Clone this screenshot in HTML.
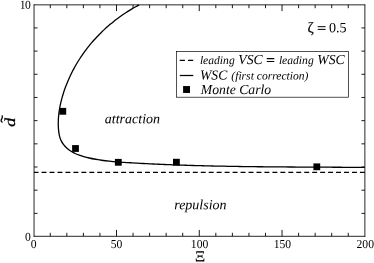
<!DOCTYPE html>
<html><head><meta charset="utf-8"><style>
html,body{margin:0;padding:0;background:#fff;}
body{width:374px;height:263px;overflow:hidden;}
svg{display:block;font-family:"Liberation Serif",serif;will-change:transform;}
</style></head><body>
<svg width="374" height="263" viewBox="0 0 374 263">
<rect width="374" height="263" fill="#fff"/>
<path d="M33.67 4.85 H365.25 M33.67 236.3 H365.25 M34.05 4.5 V236.7 M364.88 4.5 V236.7" fill="none" stroke="#000" stroke-width="0.85"/>
<path d="M50.27 236.20 v-3.40 M50.27 4.80 v3.40 M66.83 236.20 v-3.40 M66.83 4.80 v3.40 M83.38 236.20 v-3.40 M83.38 4.80 v3.40 M99.94 236.20 v-3.40 M99.94 4.80 v3.40 M116.50 236.20 v-6.30 M116.50 4.80 v6.30 M133.05 236.20 v-3.40 M133.05 4.80 v3.40 M149.60 236.20 v-3.40 M149.60 4.80 v3.40 M166.16 236.20 v-3.40 M166.16 4.80 v3.40 M182.72 236.20 v-3.40 M182.72 4.80 v3.40 M199.27 236.20 v-6.30 M199.27 4.80 v6.30 M215.82 236.20 v-3.40 M215.82 4.80 v3.40 M232.38 236.20 v-3.40 M232.38 4.80 v3.40 M248.94 236.20 v-3.40 M248.94 4.80 v3.40 M265.49 236.20 v-3.40 M265.49 4.80 v3.40 M282.04 236.20 v-6.30 M282.04 4.80 v6.30 M298.60 236.20 v-3.40 M298.60 4.80 v3.40 M315.15 236.20 v-3.40 M315.15 4.80 v3.40 M331.71 236.20 v-3.40 M331.71 4.80 v3.40 M348.26 236.20 v-3.40 M348.26 4.80 v3.40 M34.12 213.37 h3.40 M364.85 213.37 h-3.40 M34.12 190.19 h3.40 M364.85 190.19 h-3.40 M34.12 167.01 h3.40 M364.85 167.01 h-3.40 M34.12 143.83 h3.40 M364.85 143.83 h-3.40 M34.12 120.65 h3.40 M364.85 120.65 h-3.40 M34.12 97.47 h3.40 M364.85 97.47 h-3.40 M34.12 74.29 h3.40 M364.85 74.29 h-3.40 M34.12 51.11 h3.40 M364.85 51.11 h-3.40 M34.12 27.93 h3.40 M364.85 27.93 h-3.40" stroke="#000" stroke-width="0.9" fill="none"/>
<path d="M34.0 172.35 H364.85" stroke="#000" stroke-width="1.25" stroke-dasharray="4.93 3.03" stroke-dashoffset="0.4" fill="none"/>
<path d="M139.08 4.91 C138.52 5.22 136.83 6.12 135.71 6.74 C134.60 7.37 133.49 8.00 132.39 8.65 C131.29 9.30 130.20 9.96 129.12 10.63 C128.03 11.31 126.96 11.99 125.89 12.69 C124.82 13.39 123.76 14.10 122.71 14.83 C121.66 15.55 120.61 16.28 119.58 17.03 C118.55 17.78 117.52 18.54 116.50 19.31 C115.49 20.08 114.48 20.87 113.48 21.66 C112.48 22.46 111.49 23.27 110.52 24.08 C109.54 24.90 108.57 25.73 107.61 26.58 C106.65 27.42 105.70 28.27 104.76 29.14 C103.82 30.00 102.89 30.88 101.98 31.76 C101.06 32.65 100.15 33.55 99.26 34.46 C98.36 35.37 97.47 36.29 96.60 37.22 C95.73 38.15 94.87 39.09 94.02 40.04 C93.17 41.00 92.33 41.96 91.50 42.93 C90.67 43.90 89.86 44.89 89.06 45.88 C88.26 46.87 87.47 47.87 86.69 48.89 C85.91 49.90 85.15 50.92 84.40 51.95 C83.65 52.99 82.91 54.03 82.19 55.08 C81.46 56.13 80.75 57.19 80.05 58.26 C79.36 59.33 78.67 60.41 78.00 61.49 C77.33 62.58 76.68 63.68 76.04 64.78 C75.40 65.88 74.77 66.99 74.16 68.11 C73.54 69.23 72.95 70.36 72.36 71.50 C71.78 72.63 71.21 73.78 70.66 74.93 C70.11 76.08 69.57 77.24 69.05 78.40 C68.53 79.57 68.03 80.74 67.54 81.92 C67.05 83.10 66.57 84.28 66.11 85.47 C65.65 86.66 65.21 87.86 64.79 89.06 C64.36 90.27 63.95 91.48 63.56 92.69 C63.17 93.91 62.79 95.13 62.43 96.35 C62.08 97.58 61.74 98.81 61.42 100.04 C61.10 101.28 60.81 102.52 60.53 103.77 C60.25 105.01 60.00 106.26 59.77 107.52 C59.54 108.78 59.33 110.04 59.15 111.30 C58.97 112.56 58.82 113.83 58.69 115.10 C58.56 116.37 58.46 117.64 58.39 118.92 C58.32 120.19 58.28 121.47 58.27 122.74 C58.26 124.02 58.28 125.30 58.33 126.57 C58.39 127.85 58.47 129.12 58.60 130.39 C58.73 131.66 58.88 132.93 59.11 134.18 C59.35 135.44 59.63 136.69 60.03 137.90 C60.42 139.11 60.91 140.30 61.51 141.42 C62.11 142.54 62.83 143.62 63.60 144.62 C64.38 145.63 65.26 146.58 66.17 147.46 C67.09 148.34 68.08 149.17 69.10 149.93 C70.12 150.68 71.20 151.38 72.30 152.01 C73.41 152.65 74.55 153.22 75.71 153.75 C76.87 154.28 78.06 154.75 79.26 155.19 C80.46 155.63 81.68 156.01 82.90 156.38 C84.12 156.74 85.36 157.07 86.60 157.38 C87.83 157.69 89.08 157.97 90.33 158.25 C91.57 158.52 92.82 158.77 94.08 159.01 C95.33 159.25 96.59 159.47 97.85 159.67 C99.11 159.88 100.37 160.07 101.63 160.25 C102.90 160.43 104.16 160.59 105.43 160.75 C106.70 160.90 107.97 161.04 109.24 161.18 C110.51 161.31 111.78 161.43 113.05 161.55 C114.32 161.66 115.59 161.77 116.86 161.87 C118.13 161.97 119.41 162.06 120.68 162.15 C121.95 162.24 123.23 162.33 124.50 162.41 C125.77 162.49 127.05 162.57 128.32 162.65 C129.60 162.72 130.87 162.80 132.15 162.87 C133.42 162.95 134.69 163.02 135.97 163.09 C137.24 163.16 138.52 163.24 139.79 163.30 C141.07 163.37 142.34 163.44 143.61 163.51 C144.89 163.57 146.16 163.64 147.44 163.70 C148.71 163.77 149.99 163.83 151.26 163.89 C152.54 163.95 153.81 164.01 155.09 164.07 C156.36 164.13 157.64 164.19 158.91 164.24 C160.19 164.30 161.46 164.35 162.74 164.41 C164.01 164.46 165.29 164.52 166.56 164.57 C167.84 164.62 169.11 164.67 170.39 164.72 C171.67 164.77 172.94 164.82 174.22 164.86 C175.49 164.91 176.77 164.96 178.04 165.00 C179.32 165.05 180.59 165.09 181.87 165.13 C183.15 165.18 184.42 165.22 185.70 165.26 C186.97 165.30 188.25 165.34 189.52 165.38 C190.80 165.42 192.08 165.46 193.35 165.50 C194.63 165.53 195.90 165.57 197.18 165.60 C198.45 165.64 199.73 165.67 201.01 165.71 C202.28 165.74 203.56 165.77 204.83 165.81 C206.11 165.84 207.39 165.87 208.66 165.90 C209.94 165.93 211.21 165.96 212.49 165.99 C213.77 166.02 215.04 166.04 216.32 166.07 C217.59 166.10 218.87 166.12 220.15 166.15 C221.42 166.18 222.70 166.20 223.97 166.22 C225.25 166.25 226.53 166.27 227.80 166.29 C229.08 166.32 230.36 166.34 231.63 166.36 C232.91 166.38 234.18 166.40 235.46 166.42 C236.74 166.44 238.01 166.46 239.29 166.48 C240.56 166.50 241.84 166.52 243.12 166.54 C244.39 166.55 245.67 166.57 246.95 166.59 C248.22 166.61 249.50 166.62 250.77 166.64 C252.05 166.65 253.33 166.67 254.60 166.68 C255.88 166.70 257.16 166.71 258.43 166.73 C259.71 166.74 260.98 166.75 262.26 166.77 C263.54 166.78 264.81 166.79 266.09 166.80 C267.37 166.81 268.64 166.83 269.92 166.84 C271.20 166.85 272.47 166.86 273.75 166.87 C275.02 166.88 276.30 166.89 277.58 166.90 C278.85 166.91 280.13 166.92 281.41 166.93 C282.68 166.94 283.96 166.95 285.23 166.96 C286.51 166.97 287.79 166.98 289.06 166.98 C290.34 166.99 291.62 167.00 292.89 167.01 C294.17 167.02 295.45 167.02 296.72 167.03 C298.00 167.04 299.27 167.05 300.55 167.05 C301.83 167.06 303.10 167.07 304.38 167.08 C305.66 167.08 306.93 167.09 308.21 167.10 C309.48 167.10 310.76 167.11 312.04 167.12 C313.31 167.12 314.59 167.13 315.87 167.14 C317.14 167.14 318.42 167.15 319.70 167.16 C320.97 167.16 322.25 167.17 323.52 167.18 C324.80 167.18 326.08 167.19 327.35 167.20 C328.63 167.20 329.91 167.21 331.18 167.22 C332.46 167.23 333.73 167.23 335.01 167.24 C336.29 167.25 337.56 167.25 338.84 167.26 C340.12 167.27 341.39 167.28 342.67 167.28 C343.95 167.29 345.22 167.30 346.50 167.31 C347.77 167.32 349.05 167.33 350.33 167.33 C351.60 167.34 352.88 167.35 354.16 167.36 C355.43 167.37 356.71 167.38 357.99 167.39 C359.26 167.40 360.70 167.41 361.81 167.42 C362.93 167.43 364.21 167.44 364.69 167.44" stroke="#000" stroke-width="1.3" fill="none"/>
<g fill="#000"><rect x="59.40" y="107.90" width="6.80" height="6.80"/><rect x="72.10" y="145.10" width="6.80" height="6.80"/><rect x="114.90" y="158.90" width="6.80" height="6.80"/><rect x="173.00" y="158.80" width="6.80" height="6.80"/><rect x="313.40" y="163.40" width="6.80" height="6.80"/></g>
<rect x="176.4" y="51.5" width="172.1" height="45.7" fill="#fff" stroke="#000" stroke-width="0.68"/>
<path d="M179.7 60.45 H193.3" stroke="#000" stroke-width="1.25" stroke-dasharray="5.2 3.1" fill="none"/>
<path d="M179.8 75.5 H193.3" stroke="#000" stroke-width="1.25" fill="none"/>
<rect x="183.1" y="86.05" width="6.9" height="6.9" fill="#000"/>
<g transform="translate(15.2,122.15) rotate(-90) scale(1.19,0.97) skewX(2.5)"><text x="0" y="0" font-size="15.6px" font-style="italic" text-anchor="middle" stroke="#000" stroke-width="0.25">d</text></g>
<path d="M2.6 121.9 C1.3 122.3 0.6 120.6 1.5 119.2 C2.3 118.0 3.2 117.2 1.9 115.3" stroke="#000" stroke-width="1.3" fill="none"/>
<g fill="#000">
<text transform="translate(33.72,248.00) rotate(0.03) scale(0.955,1)" font-size="12.2px" text-anchor="middle">0</text>
<text transform="translate(116.50,248.00) rotate(0.03) scale(0.955,1)" font-size="12.2px" text-anchor="middle">50</text>
<text transform="translate(199.57,248.00) rotate(0.03) scale(0.955,1)" font-size="12.2px" text-anchor="middle">100</text>
<text transform="translate(282.34,248.00) rotate(0.03) scale(0.955,1)" font-size="12.2px" text-anchor="middle">150</text>
<text transform="translate(365.22,248.00) rotate(0.03) scale(0.955,1)" font-size="12.2px" text-anchor="middle">200</text>
<text transform="translate(30.85,8.70) rotate(0.03) scale(0.955,1)" font-size="12.2px" text-anchor="end">0</text>
<text transform="translate(25.55,8.70) rotate(0.03) scale(0.955,1)" font-size="12.2px" text-anchor="end">1</text>
<text transform="translate(30.85,240.70) rotate(0.03) scale(0.955,1)" font-size="12.2px" text-anchor="end">0</text>
<text transform="translate(200.10,261.60) rotate(0.03)" font-size="15.8px" text-anchor="middle" stroke="#000" stroke-width="0.15">&#926;</text>
<text transform="translate(104.80,123.30) rotate(0.03)" font-size="14.0px" text-anchor="start" font-style="italic">attraction</text>
<text transform="translate(174.20,209.30) rotate(0.03)" font-size="14.0px" text-anchor="start" font-style="italic">repulsion</text>
<text transform="translate(307.50,32.40) rotate(0.03)" font-size="15.0px" text-anchor="start" stroke="#000" stroke-width="0.2">&#950;</text>
<text transform="translate(328.95,32.30) rotate(0.03)" font-size="14.1px" text-anchor="start">0.5</text>
<path d="M317.7 26.7 H325.6 M317.7 29.4 H325.6" stroke="#000" stroke-width="1.0" fill="none"/>
<text transform="translate(199.90,63.90) rotate(0.03)" font-size="11.6px" text-anchor="start" font-style="italic">leading</text>
<text transform="translate(238.30,63.90) rotate(0.03)" font-size="13.7px" text-anchor="start" font-style="italic">VSC</text>
<path d="M266.8 58.6 H274.3 M266.8 61.4 H274.3" stroke="#000" stroke-width="1.05" fill="none"/>
<text transform="translate(278.90,63.90) rotate(0.03)" font-size="11.6px" text-anchor="start" font-style="italic">leading</text>
<text transform="translate(317.30,63.90) rotate(0.03)" font-size="13.7px" text-anchor="start" font-style="italic">WSC</text>
<text transform="translate(199.90,79.40) rotate(0.03)" font-size="13.7px" text-anchor="start" font-style="italic">WSC</text>
<text transform="translate(231.30,79.40) rotate(0.03)" font-size="11.6px" text-anchor="start" font-style="italic">(first correction)</text>
<text transform="translate(200.80,94.00) rotate(0.03)" font-size="13.7px" text-anchor="start" font-style="italic">Monte Carlo</text>
</g>
</svg>
</body></html>
